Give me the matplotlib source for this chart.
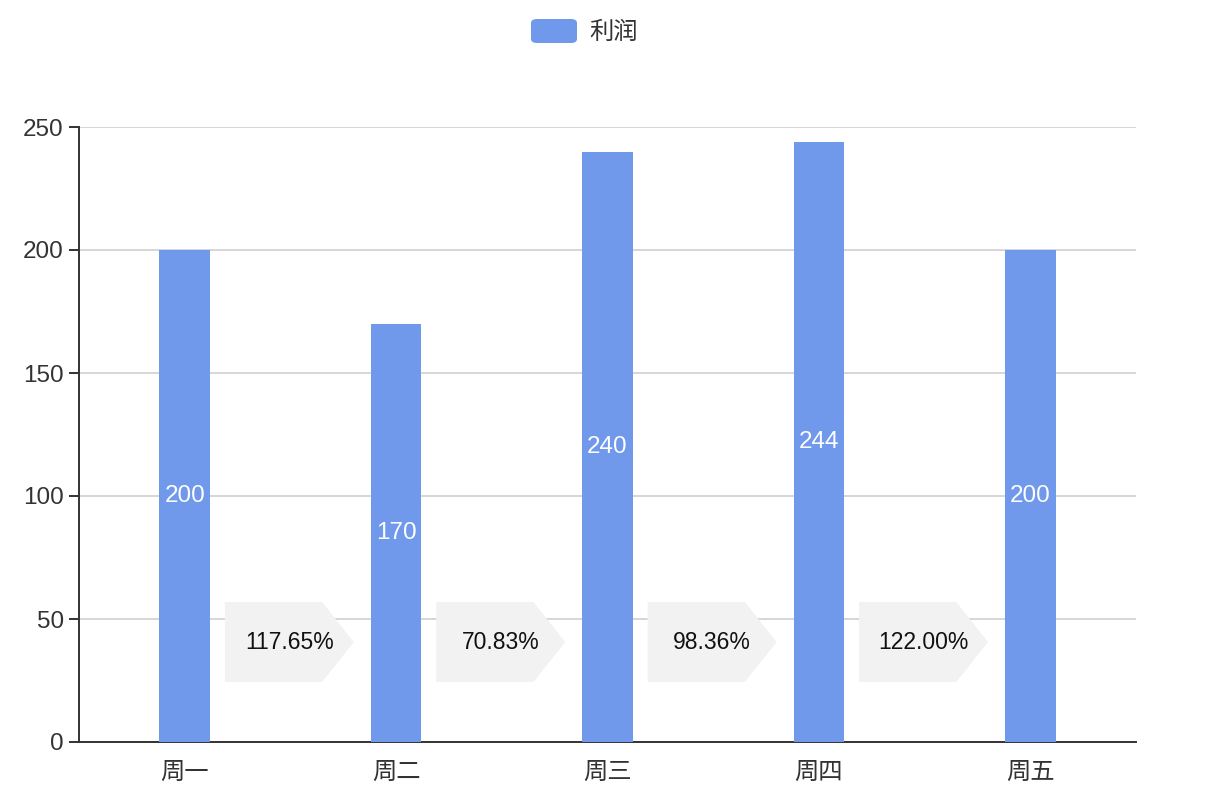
import matplotlib
matplotlib.use('Agg')
import matplotlib.pyplot as plt
from matplotlib.patches import Polygon, FancyBboxPatch
import numpy as np

plt.rcParams['font.family'] = ['Liberation Sans', 'Noto Sans CJK SC', 'DejaVu Sans']

days = ['周一', '周二', '周三', '周四', '周五']
profit = [200, 170, 240, 244, 200]
ratio_labels = ['117.65%', '70.83%', '98.36%', '122.00%']

bar_color = '#7098eb'
axis_color = '#333333'
fs = 17.5

fig = plt.figure(figsize=(12.3, 7.98), dpi=100)
ax = fig.add_axes([79 / 1230, 1 - 742 / 798, (1136 - 79) / 1230, (742 - 127) / 798])

x = np.arange(len(days))
ax.bar(x, profit, width=0.24, color=bar_color, zorder=3)

for xi, v in zip(x, profit):
    ax.text(xi, v / 2, str(v), ha='center', va='center', color='white', fontsize=fs, zorder=4)

# arrow-shaped boxes between bars
for i, lab in enumerate(ratio_labels):
    cx = x[i] + 0.5
    y0, y1, ym = 24.4, 56.9, 40.6
    pts = [(cx - 0.31, y0), (cx + 0.15, y0), (cx + 0.30, ym),
           (cx + 0.15, y1), (cx - 0.31, y1)]
    ax.add_patch(Polygon(pts, closed=True, facecolor='#f2f2f2', edgecolor='none', zorder=2.5))
    ax.text(cx - 0.005, ym, lab, ha='center', va='center', color='#111111', fontsize=16.5, zorder=4)

ax.set_xlim(-0.5, len(days) - 0.5)
ax.set_ylim(0, 250)
ax.set_yticks([0, 50, 100, 150, 200, 250])
ax.set_xticks(x)
ax.set_xticklabels(days)
ax.grid(axis='y', color='#cccccc', linewidth=1.1, zorder=0)
ax.set_axisbelow(True)

for s in ['top', 'right']:
    ax.spines[s].set_visible(False)
ax.spines['left'].set_color(axis_color)
ax.spines['bottom'].set_color(axis_color)
ax.spines['left'].set_linewidth(1.4)
ax.spines['bottom'].set_linewidth(1.4)
ax.tick_params(axis='x', length=0, pad=14, labelsize=fs, labelcolor='#333333')
ax.tick_params(axis='y', length=7, width=1.4, color=axis_color, pad=4, labelsize=fs, labelcolor='#333333')

# legend
fig.patches.append(FancyBboxPatch((531 / 1230, 1 - 43 / 798), 46 / 1230, 24 / 798,
                                  boxstyle='round,pad=0,rounding_size=0.005',
                                  transform=fig.transFigure, facecolor=bar_color,
                                  edgecolor='none'))
fig.text(589 / 1230, 1 - 33 / 798, '利润', ha='left', va='center', fontsize=fs, color='#333333')

fig.savefig('out.png', dpi=100)
